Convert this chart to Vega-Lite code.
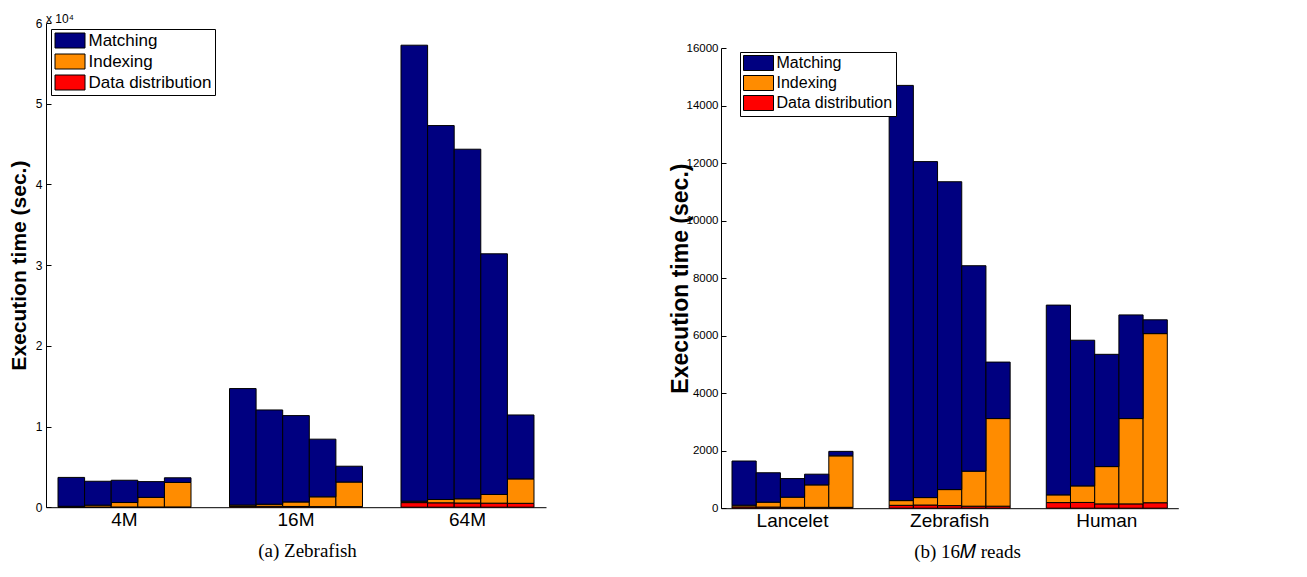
{
  "$schema": "https://vega.github.io/schema/vega-lite/v6.json",
  "background": "white",
  "padding": {"left": 8, "top": 13, "right": 0, "bottom": 0},
  "config": {
    "view": {"stroke": null},
    "font": "Liberation Sans",
    "concat": {"spacing": 123},
    "axis": {"labelColor": "black", "titleColor": "black", "domainColor": "black", "tickColor": "black", "grid": false, "labelFont": "Liberation Sans", "titleFont": "Liberation Sans"},
    "legend": {
      "orient": "none", "title": null, "fillColor": "white", "strokeColor": "black", "padding": 3, "cornerRadius": 0,
      "symbolType": "M-2,-1H2V1H-2Z", "symbolSize": 225, "symbolStrokeColor": "black", "symbolStrokeWidth": 1,
      "symbolOffset": 7.5, "labelOffset": 10, "labelColor": "black", "labelFont": "Liberation Sans", "rowPadding": 2, "symbolOpacity": 1
    }
  },
  "resolve": {"scale": {"color": "independent", "xOffset": "independent"}, "legend": {"color": "independent"}},
  "datasets": {
    "zebrafish": [
      {"reads": "4M", "run": 1, "component": "Data distribution", "seconds": 20},
      {"reads": "4M", "run": 2, "component": "Data distribution", "seconds": 25},
      {"reads": "4M", "run": 3, "component": "Data distribution", "seconds": 25},
      {"reads": "4M", "run": 4, "component": "Data distribution", "seconds": 25},
      {"reads": "4M", "run": 5, "component": "Data distribution", "seconds": 30},
      {"reads": "4M", "run": 1, "component": "Indexing", "seconds": 90},
      {"reads": "4M", "run": 2, "component": "Indexing", "seconds": 225},
      {"reads": "4M", "run": 3, "component": "Indexing", "seconds": 555},
      {"reads": "4M", "run": 4, "component": "Indexing", "seconds": 1195},
      {"reads": "4M", "run": 5, "component": "Indexing", "seconds": 3040},
      {"reads": "4M", "run": 1, "component": "Matching", "seconds": 3580},
      {"reads": "4M", "run": 2, "component": "Matching", "seconds": 2965},
      {"reads": "4M", "run": 3, "component": "Matching", "seconds": 2760},
      {"reads": "4M", "run": 4, "component": "Matching", "seconds": 1950},
      {"reads": "4M", "run": 5, "component": "Matching", "seconds": 575},
      {"reads": "16M", "run": 1, "component": "Data distribution", "seconds": 100},
      {"reads": "16M", "run": 2, "component": "Data distribution", "seconds": 110},
      {"reads": "16M", "run": 3, "component": "Data distribution", "seconds": 90},
      {"reads": "16M", "run": 4, "component": "Data distribution", "seconds": 70},
      {"reads": "16M", "run": 5, "component": "Data distribution", "seconds": 70},
      {"reads": "16M", "run": 1, "component": "Indexing", "seconds": 164},
      {"reads": "16M", "run": 2, "component": "Indexing", "seconds": 259},
      {"reads": "16M", "run": 3, "component": "Indexing", "seconds": 557},
      {"reads": "16M", "run": 4, "component": "Indexing", "seconds": 1217},
      {"reads": "16M", "run": 5, "component": "Indexing", "seconds": 3046},
      {"reads": "16M", "run": 1, "component": "Matching", "seconds": 14436},
      {"reads": "16M", "run": 2, "component": "Matching", "seconds": 11681},
      {"reads": "16M", "run": 3, "component": "Matching", "seconds": 10703},
      {"reads": "16M", "run": 4, "component": "Matching", "seconds": 7143},
      {"reads": "16M", "run": 5, "component": "Matching", "seconds": 1964},
      {"reads": "64M", "run": 1, "component": "Data distribution", "seconds": 570},
      {"reads": "64M", "run": 2, "component": "Data distribution", "seconds": 545},
      {"reads": "64M", "run": 3, "component": "Data distribution", "seconds": 520},
      {"reads": "64M", "run": 4, "component": "Data distribution", "seconds": 500},
      {"reads": "64M", "run": 5, "component": "Data distribution", "seconds": 480},
      {"reads": "64M", "run": 1, "component": "Indexing", "seconds": 173},
      {"reads": "64M", "run": 2, "component": "Indexing", "seconds": 411},
      {"reads": "64M", "run": 3, "component": "Indexing", "seconds": 520},
      {"reads": "64M", "run": 4, "component": "Indexing", "seconds": 1074},
      {"reads": "64M", "run": 5, "component": "Indexing", "seconds": 3027},
      {"reads": "64M", "run": 1, "component": "Matching", "seconds": 56507},
      {"reads": "64M", "run": 2, "component": "Matching", "seconds": 46334},
      {"reads": "64M", "run": 3, "component": "Matching", "seconds": 43320},
      {"reads": "64M", "run": 4, "component": "Matching", "seconds": 29826},
      {"reads": "64M", "run": 5, "component": "Matching", "seconds": 7923}
    ],
    "reads16M": [
      {"genome": "Lancelet", "run": 1, "component": "Data distribution", "seconds": 45},
      {"genome": "Lancelet", "run": 2, "component": "Data distribution", "seconds": 40},
      {"genome": "Lancelet", "run": 3, "component": "Data distribution", "seconds": 30},
      {"genome": "Lancelet", "run": 4, "component": "Data distribution", "seconds": 30},
      {"genome": "Lancelet", "run": 5, "component": "Data distribution", "seconds": 30},
      {"genome": "Lancelet", "run": 1, "component": "Indexing", "seconds": 59},
      {"genome": "Lancelet", "run": 2, "component": "Indexing", "seconds": 169},
      {"genome": "Lancelet", "run": 3, "component": "Indexing", "seconds": 353},
      {"genome": "Lancelet", "run": 4, "component": "Indexing", "seconds": 780},
      {"genome": "Lancelet", "run": 5, "component": "Indexing", "seconds": 1790},
      {"genome": "Lancelet", "run": 1, "component": "Matching", "seconds": 1536},
      {"genome": "Lancelet", "run": 2, "component": "Matching", "seconds": 1023},
      {"genome": "Lancelet", "run": 3, "component": "Matching", "seconds": 647},
      {"genome": "Lancelet", "run": 4, "component": "Matching", "seconds": 373},
      {"genome": "Lancelet", "run": 5, "component": "Matching", "seconds": 156},
      {"genome": "Zebrafish", "run": 1, "component": "Data distribution", "seconds": 100},
      {"genome": "Zebrafish", "run": 2, "component": "Data distribution", "seconds": 110},
      {"genome": "Zebrafish", "run": 3, "component": "Data distribution", "seconds": 90},
      {"genome": "Zebrafish", "run": 4, "component": "Data distribution", "seconds": 70},
      {"genome": "Zebrafish", "run": 5, "component": "Data distribution", "seconds": 70},
      {"genome": "Zebrafish", "run": 1, "component": "Indexing", "seconds": 164},
      {"genome": "Zebrafish", "run": 2, "component": "Indexing", "seconds": 259},
      {"genome": "Zebrafish", "run": 3, "component": "Indexing", "seconds": 557},
      {"genome": "Zebrafish", "run": 4, "component": "Indexing", "seconds": 1217},
      {"genome": "Zebrafish", "run": 5, "component": "Indexing", "seconds": 3046},
      {"genome": "Zebrafish", "run": 1, "component": "Matching", "seconds": 14436},
      {"genome": "Zebrafish", "run": 2, "component": "Matching", "seconds": 11681},
      {"genome": "Zebrafish", "run": 3, "component": "Matching", "seconds": 10703},
      {"genome": "Zebrafish", "run": 4, "component": "Matching", "seconds": 7143},
      {"genome": "Zebrafish", "run": 5, "component": "Matching", "seconds": 1964},
      {"genome": "Human", "run": 1, "component": "Data distribution", "seconds": 195},
      {"genome": "Human", "run": 2, "component": "Data distribution", "seconds": 200},
      {"genome": "Human", "run": 3, "component": "Data distribution", "seconds": 150},
      {"genome": "Human", "run": 4, "component": "Data distribution", "seconds": 150},
      {"genome": "Human", "run": 5, "component": "Data distribution", "seconds": 190},
      {"genome": "Human", "run": 1, "component": "Indexing", "seconds": 268},
      {"genome": "Human", "run": 2, "component": "Indexing", "seconds": 575},
      {"genome": "Human", "run": 3, "component": "Indexing", "seconds": 1297},
      {"genome": "Human", "run": 4, "component": "Indexing", "seconds": 2966},
      {"genome": "Human", "run": 5, "component": "Indexing", "seconds": 5880},
      {"genome": "Human", "run": 1, "component": "Matching", "seconds": 6598},
      {"genome": "Human", "run": 2, "component": "Matching", "seconds": 5065},
      {"genome": "Human", "run": 3, "component": "Matching", "seconds": 3903},
      {"genome": "Human", "run": 4, "component": "Matching", "seconds": 3604},
      {"genome": "Human", "run": 5, "component": "Matching", "seconds": 480}
    ]
  },
  "hconcat": [
    {
      "width": 500,
      "height": 484.2,
      "data": {"name": "zebrafish"},
      "title": {"text": "x 10⁴", "anchor": "start", "frame": "group", "fontSize": 12, "fontWeight": "normal", "offset": -9, "font": "Liberation Sans", "color": "black"},
      "mark": {"type": "bar", "stroke": "black", "strokeWidth": 1},
      "encoding": {
        "x": {
          "field": "reads", "type": "nominal", "sort": ["4M", "16M", "64M"],
          "scale": {"paddingInner": 0.2245, "paddingOuter": 0.07},
          "axis": {"title": "(a) Zebrafish", "titleFont": "Liberation Serif", "titleFontSize": 19, "titleFontWeight": "normal", "titlePadding": 12, "titleX": 261, "ticks": false, "labelAngle": 0, "labelFontSize": 19, "labelPadding": 3}
        },
        "xOffset": {"field": "run", "type": "ordinal", "scale": {"paddingInner": 0, "paddingOuter": 0}},
        "y": {
          "field": "seconds", "type": "quantitative", "stack": "zero",
          "scale": {"domain": [0, 60000], "nice": false},
          "axis": {"title": "Execution time (sec.)", "titleFontSize": 21, "titleFontWeight": "bold", "titlePadding": 6, "values": [0, 10000, 20000, 30000, 40000, 50000, 60000], "labelExpr": "datum.value / 10000", "labelFontSize": 12, "tickSize": -5, "labelPadding": 9}
        },
        "color": {
          "field": "component", "type": "nominal",
          "scale": {"domain": ["Matching", "Indexing", "Data distribution"], "range": ["#000080", "#FF8C00", "#FF0000"]},
          "legend": {"legendX": 5, "legendY": 6, "labelFontSize": 17}
        },
        "order": {"field": "component", "sort": "ascending"}
      }
    },
    {
      "width": 457.3,
      "height": 485.2,
      "data": {"name": "reads16M"},
      "mark": {"type": "bar", "stroke": "black", "strokeWidth": 1},
      "encoding": {
        "x": {
          "field": "genome", "type": "nominal", "sort": ["Lancelet", "Zebrafish", "Human"],
          "scale": {"paddingInner": 0.23, "paddingOuter": 0.07},
          "axis": {"title": "(b) 16𝑀 reads", "titleFont": "Liberation Serif", "titleFontSize": 19, "titleFontWeight": "normal", "titlePadding": 12, "titleX": 246, "ticks": false, "labelAngle": 0, "labelFontSize": 19, "labelPadding": 3}
        },
        "xOffset": {"field": "run", "type": "ordinal", "scale": {"paddingInner": 0, "paddingOuter": 0}},
        "y": {
          "field": "seconds", "type": "quantitative", "stack": "zero",
          "scale": {"domain": [0, 16000], "nice": false, "range": [485.2, 25]},
          "axis": {"title": "Execution time (sec.)", "titleFontSize": 23, "titleFontWeight": "bold", "titlePadding": -6, "values": [0, 2000, 4000, 6000, 8000, 10000, 12000, 14000, 16000], "format": "d", "labelFontSize": 11.5, "tickSize": -5, "labelPadding": 8}
        },
        "color": {
          "field": "component", "type": "nominal",
          "scale": {"domain": ["Matching", "Indexing", "Data distribution"], "range": ["#000080", "#FF8C00", "#FF0000"]},
          "legend": {"legendX": 19, "legendY": 29, "labelFontSize": 16, "rowPadding": 0}
        },
        "order": {"field": "component", "sort": "ascending"}
      }
    }
  ]
}
